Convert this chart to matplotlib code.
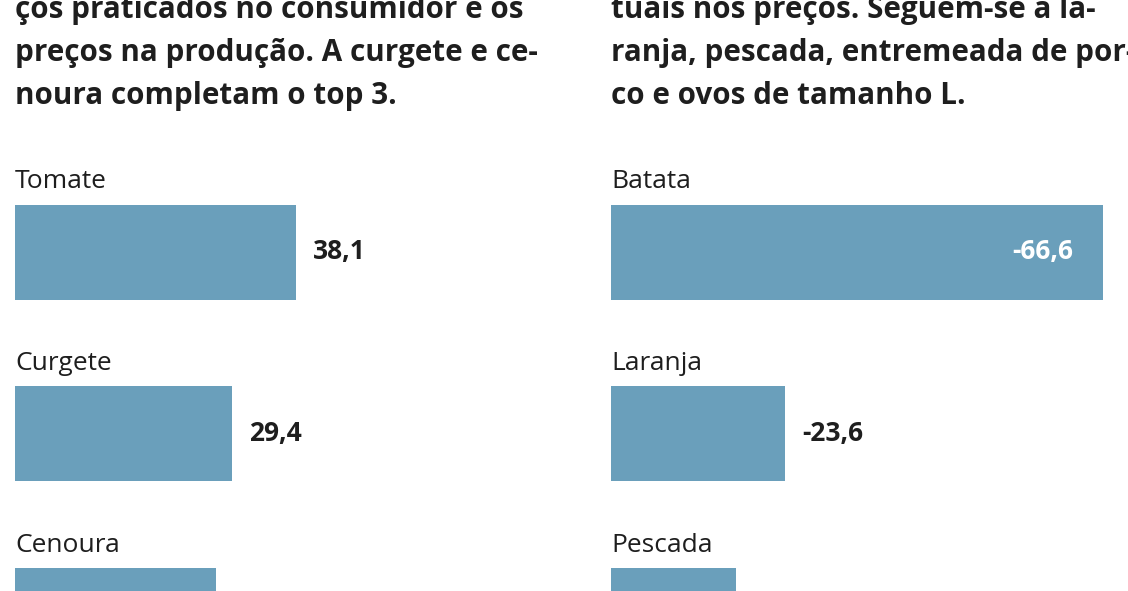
import matplotlib
matplotlib.use('Agg')
import matplotlib.pyplot as plt

W, H = 1128, 591

left_text = ["ços praticados no consumidor e os",
             "preços na produção. A curgete e ce-",
             "noura completam o top 3."]
right_text = ["tuais nos preços. Seguem-se a la-",
              "ranja, pescada, entremeada de por-",
              "co e ovos de tamanho L."]

left_names = ["Tomate", "Curgete", "Cenoura"]
left_values = [38.1, 29.4, 27.3]
right_names = ["Batata", "Laranja", "Pescada"]
right_values = [-66.6, -23.6, -17.0]

BAR = "#6a9fbb"
INK = "#1e1e1e"
PX_PER_UNIT = 7.38

fig = plt.figure(figsize=(W / 100, H / 100), dpi=100)
fig.patch.set_facecolor("white")

for x0, lines in ((15, left_text), (611, right_text)):
    for i, line in enumerate(lines):
        fig.text(x0 / W, 1 - (10 + i * 43) / H, line, fontsize=21.3, fontweight="bold",
                 color=INK, family="Open Sans", va="center", ha="left")


def panel(x0, names, values, inside):
    width_px = 540
    ax = fig.add_axes([x0 / W, 0, width_px / W, 1])
    ax.set_xlim(0, width_px / PX_PER_UNIT)
    ax.set_ylim(H, 0)
    ax.axis("off")
    for i, (n, v) in enumerate(zip(names, values)):
        yc = 252 + i * 181.5
        a = abs(v)
        ax.barh(yc, a, height=95, left=0, color=BAR)
        ax.text(0, yc - 70, n, fontsize=19, color=INK, family="Open Sans",
                va="center", ha="left")
        if yc > H - 20:
            continue  # value label falls below the visible crop
        label = f"{v:.1f}".replace(".", ",")
        if inside and i == 0:
            ax.text(a - 4, yc, label, fontsize=19, fontweight="bold", color="white",
                    family="Open Sans", va="center", ha="right")
        else:
            ax.text(a + 2.3, yc, label, fontsize=19, fontweight="bold", color=INK,
                    family="Open Sans", va="center", ha="left")


panel(15, left_names, left_values, False)
panel(611, right_names, right_values, True)

fig.savefig("out.png", dpi=100)
